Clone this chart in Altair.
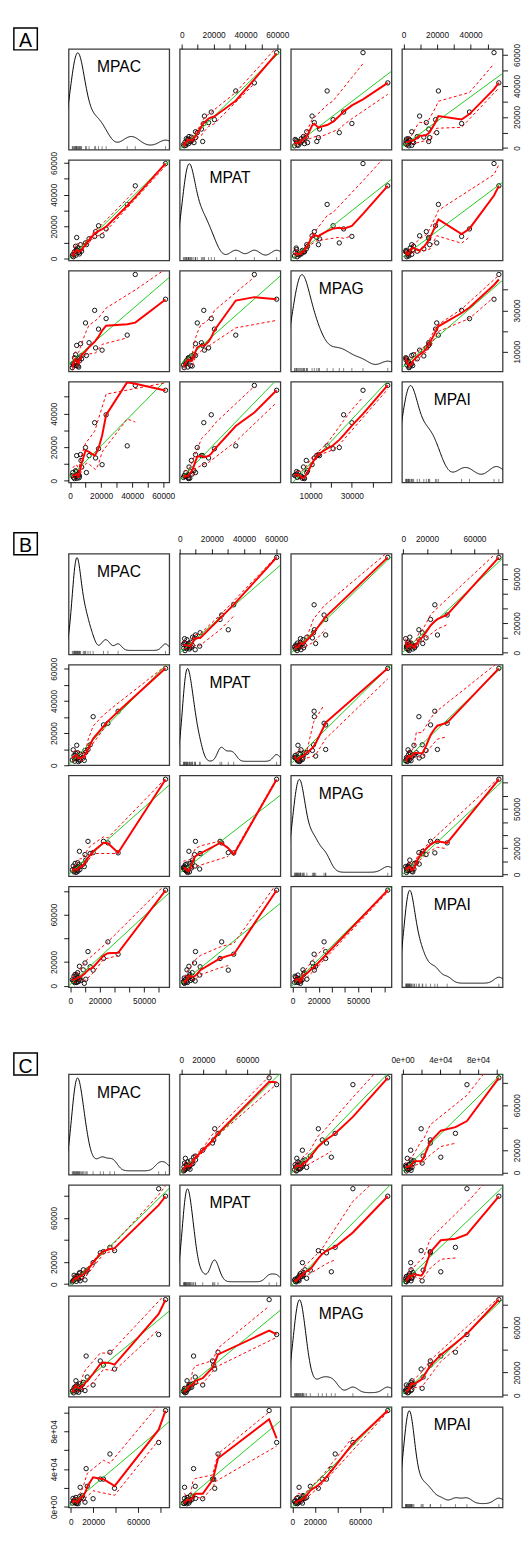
import altair as alt
import numpy as np
import pandas as pd

VARS = ["MPAC", "MPAT", "MPAG", "MPAI"]
LETTERS = ["A", "B", "C"]

# ---------------- data ----------------
A_MPAC = [61500, 42000, 36800, 23200, 15800, 9900, 18300, 20600, 16400, 12200, 6700, 4200, 7000, 10500,
          7400, 1700, 2100, 3200, 4500, 5500, 3800, 5000, 2800, 6000, 4000, 1400, 3500, 5800]
A_MPAT = [59600, 45600, 33900, 18500, 13800, 9700, 20500, 14200, 16800, 12300, 8600, 13100, 6000, 8600,
          4500, 2500, 1000, 3000, 5000, 3800, 2000, 6500, 4200, 2800, 5500, 1500, 7600, 4000]
A_MPAG = [35400, 47400, 18000, 26000, 30000, 23900, 20900, 10700, 11800, 14300, 13800, 13000, 7900, 8100,
          6500, 4000, 3500, 5000, 6000, 2500, 4500, 3000, 7000, 5500, 3200, 2200, 8500, 6800]
A_MPAI = [53900, 56800, 20800, 39300, 34600, 19800, 19100, 9600, 13600, 15000, 15600, 15000, 12100, 4900,
          8200, 4900, 2000, 3000, 1500, 3500, 2500, 4000, 1300, 2800, 5500, 3200, 6000, 1800]

B_MPAC = [64500, 32400, 25500, 22500, 15500, 13500, 12000, 6200, 4400, 10000, 10500, 9500, 8800, 2000,
          3700, 4500, 5200, 3000, 6000, 2500, 5500, 1400, 7000, 4000, 3300, 6500, 2800, 5000]
B_MPAT = [60300, 33600, 26100, 25100, 30200, 12700, 9800, 5700, 12400, 9200, 8000, 3000, 4500, 9600,
          7300, 4000, 5000, 2500, 3500, 6000, 2300, 3300, 6800, 4800, 6300, 2800, 4200, 7800]
B_MPAG = [72600, 16500, 24100, 25300, 16700, 16000, 25300, 17700, 4200, 15200, 11000, 6100, 8000, 6500,
          5000, 3000, 2500, 4500, 7500, 2000, 5500, 3500, 6000, 1600, 8500, 3800, 2800, 9000]
B_MPAI = [80600, 26600, 37000, 23000, 13150, 16000, 28800, 16400, 9000, 19200, 5500, 2000, 13400, 4000,
          6000, 3000, 7000, 2600, 5000, 8000, 3500, 5000, 4500, 2700, 9500, 6500, 4000, 11000]

C_MPAC = [84400, 78300, 39000, 34900, 29100, 26300, 19900, 13700, 8400, 14700, 12700, 11250, 4600, 10500,
          7500, 9500, 6000, 3500, 5000, 2500, 8000, 4000, 6500, 1400, 3000, 7000, 5500, 2000]
C_MPAT = [79800, 86600, 30400, 33400, 29500, 28400, 19500, 11200, 3000, 12700, 3800, 13000, 5300, 8500,
          9500, 6000, 7500, 4000, 2500, 3500, 10500, 6500, 5000, 2000, 8000, 4500, 7000, 3000]
C_MPAG = [84600, 53700, 23100, 38000, 26600, 30300, 8950, 34600, 6000, 16000, 4000, 11250, 12700, 9500,
          7000, 5000, 8000, 5500, 3000, 2000, 10000, 7500, 4500, 3500, 6500, 2500, 9000, 4000]
C_MPAI = [102000, 68200, 19700, 56000, 29400, 29400, 8650, 40500, 20760, 21800, 5000, 9000, 10000, 12000,
          7500, 9800, 6000, 4500, 3500, 5500, 11000, 8000, 3300, 4000, 7000, 6500, 4000, 9000]

# ---------------- axis ticks and labels ----------------
TICKS_10K_60 = [0, 10000, 20000, 30000, 40000, 50000, 60000]
TICKS_10K_70 = [0, 10000, 20000, 30000, 40000, 50000, 60000, 70000]
TICKS_10K_40 = [10000, 20000, 30000, 40000]
TICKS_10K_50 = [0, 10000, 20000, 30000, 40000, 50000]
TICKS_20K_80 = [0, 20000, 40000, 60000, 80000]
TICKS_20K_100 = [0, 20000, 40000, 60000, 80000, 100000]

LAB_0246 = ([0, 20000, 40000, 60000], ["0", "20000", "40000", "60000"])
LAB_13 = ([10000, 30000], ["10000", "30000"])
LAB_024 = ([0, 20000, 40000], ["0", "20000", "40000"])
LAB_025 = ([0, 20000, 50000], ["0", "20000", "50000"])
LAB_026 = ([0, 20000, 60000], ["0", "20000", "60000"])
LAB_SCI = ([0, 40000, 80000], ["0e+00", "4e+04", "8e+04"])

AXES = {
    "A": {"MPAC": (TICKS_10K_60, LAB_0246), "MPAT": (TICKS_10K_60, LAB_0246),
          "MPAG": (TICKS_10K_40, LAB_13), "MPAI": (TICKS_10K_50, LAB_024)},
    "B": {"MPAC": (TICKS_10K_60, LAB_025), "MPAT": (TICKS_10K_60, LAB_0246),
          "MPAG": (TICKS_10K_70, LAB_025), "MPAI": (TICKS_20K_80, LAB_026)},
    "C": {"MPAC": (TICKS_20K_80, LAB_026), "MPAT": (TICKS_20K_80, LAB_026),
          "MPAG": (TICKS_20K_80, LAB_026), "MPAI": (TICKS_20K_100, LAB_SCI)},
}

BLOCKS = {
    "A": {"MPAC": A_MPAC, "MPAT": A_MPAT, "MPAG": A_MPAG, "MPAI": A_MPAI},
    "B": {"MPAC": B_MPAC, "MPAT": B_MPAT, "MPAG": B_MPAG, "MPAI": B_MPAI},
    "C": {"MPAC": C_MPAC, "MPAT": C_MPAT, "MPAG": C_MPAG, "MPAI": C_MPAI},
}

# ---------------- styling ----------------
W = H = 103
GREEN = "#1fcc1f"
RED = "#ff0000"
INK = "#111111"
FONT = "Liberation Sans"
SPACER_AB = 52
SPACER_BC = 68
LOESS_DEGREE = 2


# ---------------- statistics (R's loess with kd-tree interpolation, bw.nrd0) ----------------
def kd_vertices(xs, fc):
    n = len(xs)
    rng = xs[-1] - xs[0]
    mu = 0.005 * max(rng, 1e-10 * max(abs(xs[0]), abs(xs[-1])) + 1e-30)
    lo_b, hi_b = xs[0] - mu, xs[-1] + mu
    verts = {lo_b, hi_b}
    stack = [(0, n - 1, lo_b, hi_b)]
    while stack:
        l, u, vl, vu = stack.pop()
        if (u - l + 1) <= fc or (vu - vl) <= 0:
            continue
        m = (l + u) // 2
        offset = 0
        while True:
            mo = m + offset
            if mo >= u or mo < l:
                break
            if xs[mo] == xs[mo + 1]:
                offset = -offset
                if offset >= 0:
                    offset += 1
                continue
            m = mo
            break
        split = xs[m]
        if split == vl or split == vu:
            continue
        verts.add(split)
        stack.append((l, m, vl, split))
        stack.append((m + 1, u, split, vu))
    return np.array(sorted(verts))


def local_fit(xs, ys, v, q, degree, robust):
    d = np.abs(xs - v)
    h = np.sort(d)[q - 1]
    if h > 0:
        u = d / h
        w = np.where(u < 1, (1 - u ** 3) ** 3, 0.0)
    else:
        w = (d == 0).astype(float)
    w = w * robust
    if w.sum() <= 0:
        k = int(np.argmin(d))
        return ys[k], 0.0
    if degree == 0:
        return float(np.sum(w * ys) / np.sum(w)), 0.0
    s = h if h > 0 else 1.0
    t = (xs - v) / s
    X = np.vstack([t ** k for k in range(degree + 1)]).T
    sw = np.sqrt(w)
    beta, *_ = np.linalg.lstsq(X * sw[:, None], ys * sw, rcond=None)
    return float(beta[0]), float(beta[1] / s)


def hermite_eval(verts, vals, slopes, x):
    out = np.empty(len(x))
    for i, xv in enumerate(x):
        k = int(np.searchsorted(verts, xv, side="right") - 1)
        k = min(max(k, 0), len(verts) - 2)
        v0, v1 = verts[k], verts[k + 1]
        L = v1 - v0
        hh = (xv - v0) / L
        phi0 = (1 - hh) ** 2 * (1 + 2 * hh)
        phi1 = hh ** 2 * (3 - 2 * hh)
        psi0 = hh * (1 - hh) ** 2
        psi1 = -hh ** 2 * (1 - hh)
        out[i] = phi0 * vals[k] + phi1 * vals[k + 1] + (psi0 * slopes[k] + psi1 * slopes[k + 1]) * L
    return out


def loess_fit(xs, ys, span=0.5, degree=2, iterations=4):
    xs = np.asarray(xs, float)
    ys = np.asarray(ys, float)
    n = len(xs)
    q = min(max(int(np.floor(n * span + 1e-7)), 1), n)
    fc = int(np.floor(n * span * 0.2))
    verts = kd_vertices(xs, fc)
    robust = np.ones(n)
    fitted = ys.copy()
    for it in range(iterations):
        vals = np.empty(len(verts))
        slopes = np.empty(len(verts))
        for k, v in enumerate(verts):
            vals[k], slopes[k] = local_fit(xs, ys, v, q, degree, robust)
        fitted = hermite_eval(verts, vals, slopes, xs)
        if it < iterations - 1:
            ar = np.abs(ys - fitted)
            cmad = 6 * np.median(ar)
            if cmad <= 0:
                break
            robust = np.where(ar <= 0.001 * cmad, 1.0,
                              np.where(ar <= 0.999 * cmad, (1 - (ar / cmad) ** 2) ** 2, 0.0))
    return fitted


def smooth_lines(x, y):
    o = np.argsort(x, kind="mergesort")
    xs, ys = x[o], y[o]
    fit = loess_fit(xs, ys, 0.5, LOESS_DEGREE, 4)
    res = ys - fit
    pos = res > 0
    out = {"fit": (xs, fit)}
    for key, mask, sign in (("upper", pos, 1.0), ("lower", ~pos, -1.0)):
        if int(np.floor(mask.sum() * 0.5)) >= 2:
            sx = xs[mask]
            sf = loess_fit(sx, res[mask] ** 2, 0.5, 0, 1)
            out[key] = (sx, fit[mask] + sign * np.sqrt(np.maximum(sf, 0)))
    return out


def bw_nrd0(v):
    hi = np.std(v, ddof=1)
    q75, q25 = np.percentile(v, [75, 25])
    lo = min(hi, (q75 - q25) / 1.34)
    if lo <= 0:
        lo = hi if hi > 0 else 1.0
    return 0.9 * lo * len(v) ** (-0.2)


def dom(v):
    lo, hi = float(np.min(v)), float(np.max(v))
    r = hi - lo
    return [lo - 0.04 * r, hi + 0.04 * r]


def label_expr(lab):
    s = ""
    for v, t in zip(lab[0], lab[1]):
        s += f"datum.value == {v} ? '{t}' : "
    return s + "''"


def make_axis(block, var, orient, d):
    ticks, lab = AXES[block][var]
    vals = [t for t in ticks if d[0] <= t <= d[1]]
    kw = dict(values=vals, labelExpr=label_expr(lab), orient=orient, title=None, grid=False,
              domain=False, ticks=True, tickSize=5, tickColor="black", tickWidth=0.9,
              labelFontSize=8.5, labelFont=FONT, labelColor=INK, labelPadding=5,
              labelOverlap=False, labelFlush=False, labelBound=False)
    if orient in ("left", "right"):
        kw.update(labelAngle=270, labelAlign="center",
                  labelBaseline="bottom" if orient == "left" else "top")
    else:
        kw.update(labelAngle=0, labelAlign="center",
                  labelBaseline="bottom" if orient == "top" else "top")
    return alt.Axis(**kw)


def scatter_cell(block, r, c):
    data = BLOCKS[block]
    xv, yv = VARS[c], VARS[r]
    x = np.asarray(data[xv], float)
    y = np.asarray(data[yv], float)
    xd, yd = dom(x), dom(y)
    xo = "top" if (r == 0 and c % 2 == 1) else ("bottom" if (r == 3 and c % 2 == 0) else None)
    yo = "left" if (c == 0 and r % 2 == 1) else ("right" if (c == 3 and r % 2 == 0) else None)
    X = alt.X("x:Q", scale=alt.Scale(domain=xd, nice=False, zero=False),
              axis=make_axis(block, xv, xo, xd) if xo else None)
    Y = alt.Y("y:Q", scale=alt.Scale(domain=yd, nice=False, zero=False),
              axis=make_axis(block, yv, yo, yd) if yo else None)
    pts = pd.DataFrame({"x": x, "y": y})
    layers = [
        alt.Chart(pts).mark_point(shape="circle", filled=False, size=20, color=INK,
                                  strokeWidth=1, opacity=1).encode(X, Y),
        alt.Chart(pts).transform_regression("x", "y", extent=xd)
        .mark_line(color=GREEN, strokeWidth=1, clip=True).encode(X, Y),
    ]
    sm = smooth_lines(x, y)
    fx, fy = sm["fit"]
    layers.append(alt.Chart(pd.DataFrame({"x": fx, "y": fy}))
                  .mark_line(color=RED, strokeWidth=2, clip=True).encode(X, Y))
    for key in ("upper", "lower"):
        if key in sm:
            sx, sy = sm[key]
            layers.append(alt.Chart(pd.DataFrame({"x": sx, "y": sy}))
                          .mark_line(color=RED, strokeWidth=1, strokeDash=[3, 2.5], clip=True)
                          .encode(X, Y))
    return alt.layer(*layers).properties(width=W, height=H)


def diag_cell(block, i, letter=None):
    v = np.asarray(BLOCKS[block][VARS[i]], float)
    xd = dom(v)
    bw = bw_nrd0(v)
    df = pd.DataFrame({"x": v})
    xs = alt.Scale(domain=xd, nice=False, zero=False)
    dens = (alt.Chart(df)
            .transform_density("x", as_=["value", "density"], bandwidth=bw,
                               extent=[float(v.min() - 3 * bw), float(v.max() + 3 * bw)], steps=300)
            .mark_line(color="black", strokeWidth=1, clip=True)
            .encode(x=alt.X("value:Q", scale=xs, axis=None),
                    y=alt.Y("density:Q", scale=alt.Scale(zero=False, nice=False, padding=4), axis=None)))
    rug = (alt.Chart(df).mark_rule(color="#333333", strokeWidth=0.6)
           .encode(x=alt.X("x:Q", scale=xs, axis=None), y=alt.value(H), y2=alt.value(H - 3.5)))
    name = (alt.Chart(pd.DataFrame({"t": [VARS[i]]}))
            .mark_text(fontSize=16, font=FONT, align="center", baseline="alphabetic", color="black")
            .encode(x=alt.value(W / 2), y=alt.value(24), text="t:N"))
    layers = [dens, rug, name]
    if letter:
        box = (alt.Chart(pd.DataFrame({"t": [letter]}))
               .mark_rect(fillOpacity=0, stroke="black", strokeWidth=1.5)
               .encode(x=alt.value(-56), x2=alt.value(-32), y=alt.value(-21.5), y2=alt.value(1)))
        let = (alt.Chart(pd.DataFrame({"t": [letter]}))
               .mark_text(fontSize=20, font=FONT, align="center", baseline="alphabetic", color="black")
               .encode(x=alt.value(-44), y=alt.value(-1.5), text="t:N"))
        layers += [box, let]
    return alt.layer(*layers).properties(width=W, height=H)


def spacer(h):
    return (alt.Chart(pd.DataFrame({"x": [0]})).mark_point(opacity=0)
            .encode(x=alt.value(0), y=alt.value(0))
            .properties(width=W, height=h, view=alt.ViewBackground(strokeOpacity=0)))


cells = []
for bi, block in enumerate(LETTERS):
    for r in range(4):
        for c in range(4):
            if r == c:
                cells.append(diag_cell(block, r, letter=block if r == 0 else None))
            else:
                cells.append(scatter_cell(block, r, c))
    if bi == 0:
        cells += [spacer(SPACER_AB) for _ in range(4)]
    elif bi == 1:
        cells += [spacer(SPACER_BC) for _ in range(4)]

chart = (alt.concat(*cells, columns=4, spacing={"row": 10.5, "column": 10.7},
                    bounds="flush", align="each")
         .properties(padding={"left": 4, "top": 1, "right": 2, "bottom": 0}, background="white")
         .configure_view(stroke="#3a3a3a", strokeWidth=1.3))

chart.save("out.html", embed_options={"renderer": "svg", "actions": False})
